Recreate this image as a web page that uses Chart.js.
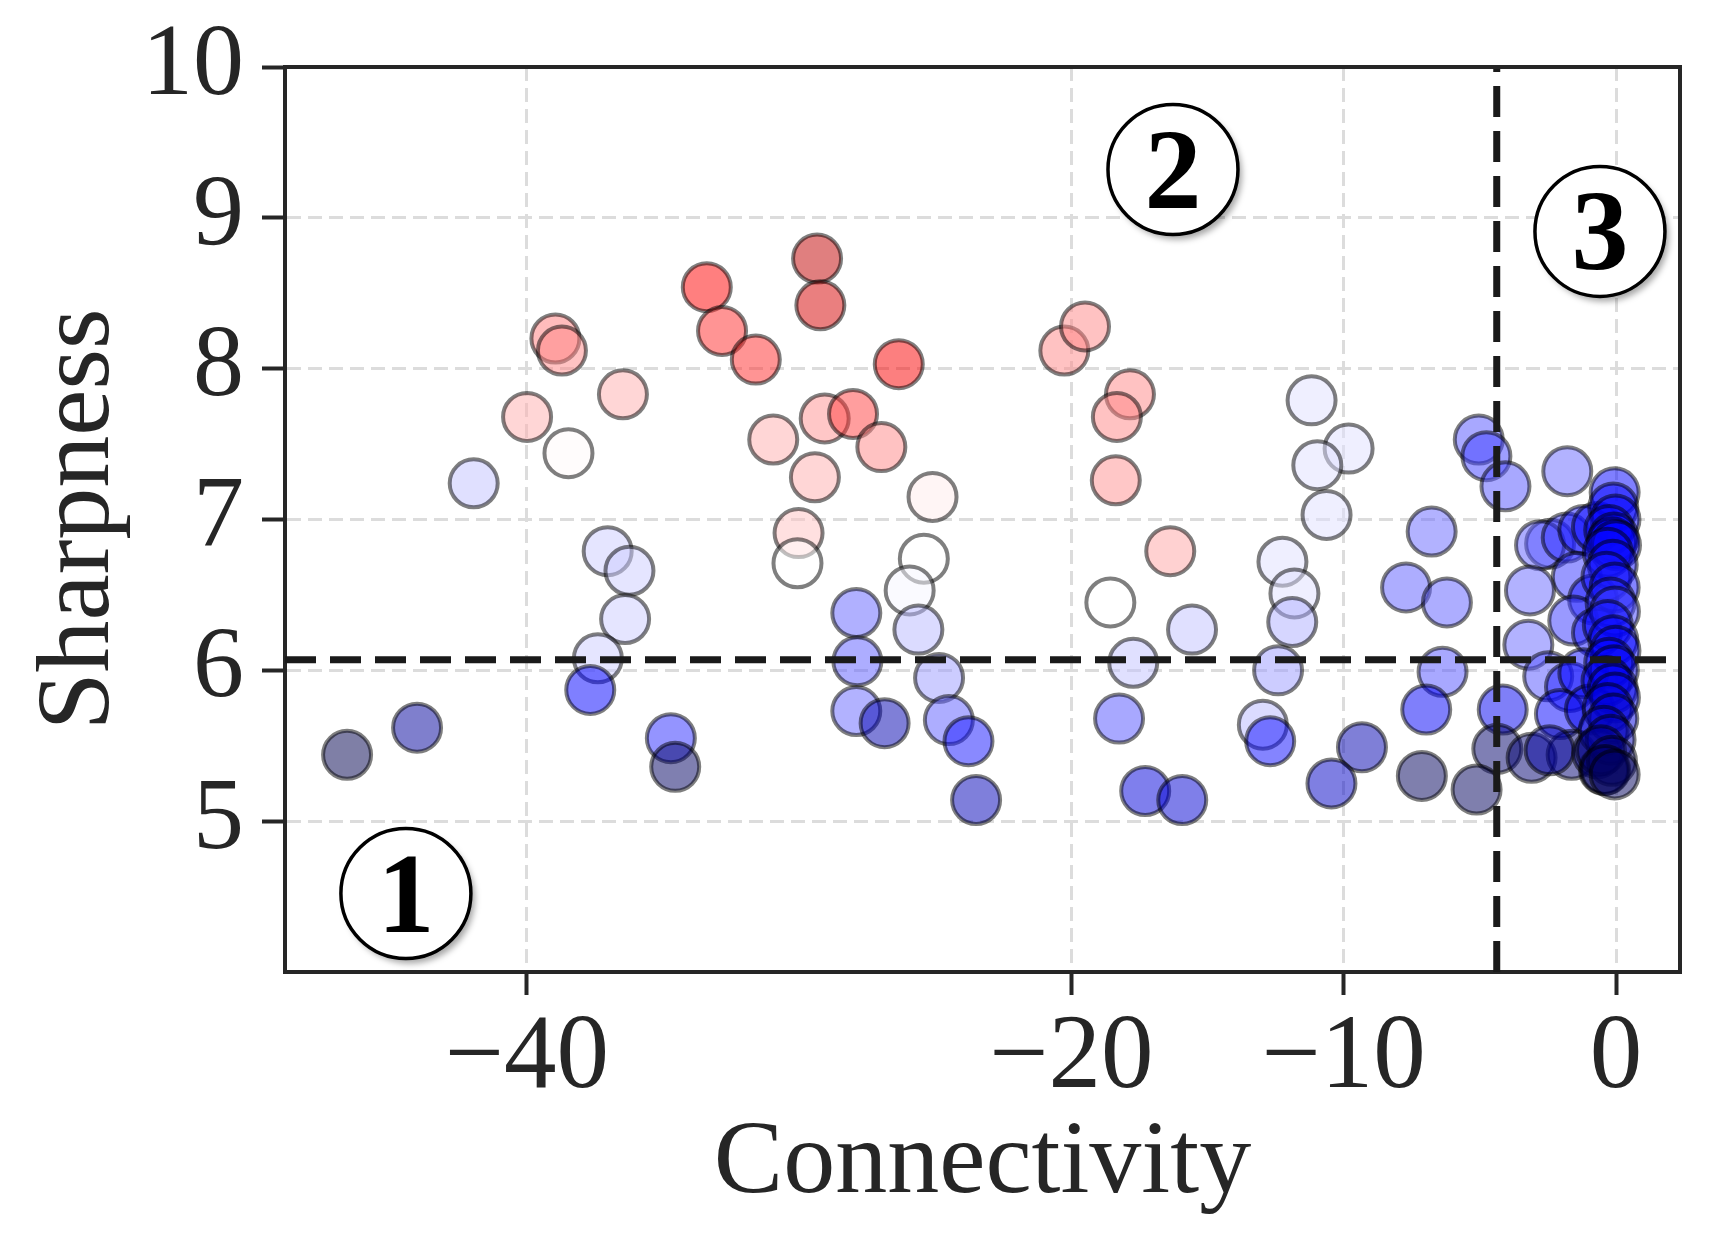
<!DOCTYPE html>
<html>
<head>
<meta charset="utf-8">
<title>Sharpness vs Connectivity</title>
<script src="https://cdn.jsdelivr.net/npm/chart.js@4.4.1/dist/chart.umd.min.js"></script>
<style>
  html, body { margin: 0; padding: 0; background: #ffffff; }
  #wrap { width: 1709px; height: 1246px; position: relative; }
</style>
</head>
<body>
<div id="wrap"><canvas id="chart"></canvas></div>
<script>
// Data
const connectivity = [
  -46.60, -44.03, -41.95, -39.99, -38.95, -38.71, -38.47, -36.47, -37.03, -36.23,
  -36.39, -37.39, -37.67, -34.71, -34.55,
  -33.39, -32.83, -31.59, -29.34, -29.22, -26.34, -30.95, -29.06, -28.02, -26.98,
  -29.42, -25.10, -30.02, -30.06, -25.42, -25.94, -25.62, -27.90, -27.86, -27.90,
  -26.86, -24.86, -24.50, -23.78, -23.50,
  -20.26, -19.50, -17.85, -18.33, -18.37, -16.37, -18.57, -17.73, -15.57, -18.25,
  -17.29, -15.93,
  -11.18, -9.82, -10.97, -10.63, -12.25, -11.81, -11.89, -12.41, -12.97, -12.70,
  -6.77, -7.71, -6.21, -6.37, -6.97, -9.33, -5.04, -4.76, -4.06, -4.16,
  -4.36, -7.13, -10.45, -5.12,
  -1.79, -2.42, -2.79, -1.81, -1.20, -0.70, -1.44, -3.16, -0.84, -1.57,
  -3.22, -0.70, -2.49, -1.69, -1.20, -2.06, -0.96, -3.10, -1.63, -2.44,
  -0.69, -0.44,
  -0.05, -0.10, -0.02, -0.25, -0.08, -0.15, 0.00, -0.30, -0.12, -0.35,
  -0.05, -0.20, -0.04, -0.30, -0.10, -0.02, -0.25, -0.08, -0.35, -0.12,
  -0.04, -0.30, -0.10, -0.45, -0.20, -0.55, -0.15, -0.40, -0.05
];
const sharpness = [
  5.44, 5.62, 7.24, 7.68, 8.20, 8.12, 7.44, 7.83, 6.79, 6.66,
  6.34, 6.08, 5.87, 5.55, 5.36,
  8.54, 8.25, 8.06, 8.73, 8.42, 8.03, 7.53, 7.67, 7.70, 7.48,
  7.28, 7.15, 6.91, 6.71, 6.74, 6.53, 6.27, 6.38, 6.06, 5.73,
  5.65, 5.95, 5.67, 5.53, 5.14,
  8.12, 8.28, 7.83, 7.68, 7.26, 6.79, 6.45, 6.05, 6.27, 5.68,
  5.20, 5.14,
  7.79, 7.47, 7.36, 7.03, 6.72, 6.51, 6.32, 6.00, 5.64, 5.53,
  6.92, 6.55, 6.45, 5.99, 5.74, 5.49, 7.53, 7.42, 7.22, 5.74,
  5.48, 5.30, 5.25, 5.21,
  7.32, 6.84, 6.83, 6.88, 6.93, 6.95, 6.62, 6.53, 6.47, 6.33,
  6.17, 6.25, 5.96, 5.89, 5.98, 5.71, 5.74, 5.42, 5.44, 5.47,
  5.45, 5.34,
  7.18, 7.08, 7.00, 6.93, 6.88, 6.85, 6.83, 6.78, 6.70, 6.62,
  6.55, 6.45, 6.39, 6.30, 6.20, 6.13, 6.05, 6.00, 5.93, 5.88,
  5.82, 5.75, 5.68, 5.60, 5.54, 5.47, 5.40, 5.34, 5.31
];
// colour value of each point on the seismic map (0 = dark blue, 0.5 = white, 1 = dark red)
const colorValue = [
  0.00, 0.11, 0.44, 0.58, 0.63, 0.62, 0.505, 0.58, 0.45, 0.45,
  0.45, 0.45, 0.25, 0.29, 0.03,
  0.75, 0.71, 0.71, 0.87, 0.83, 0.76, 0.58, 0.61, 0.69, 0.62,
  0.58, 0.52, 0.56, 0.50, 0.50, 0.49, 0.43, 0.345, 0.34, 0.35,
  0.14, 0.40, 0.34, 0.27, 0.15,
  0.62, 0.62, 0.62, 0.62, 0.61, 0.59, 0.50, 0.44, 0.44, 0.33,
  0.20, 0.19,
  0.47, 0.47, 0.47, 0.47, 0.47, 0.47, 0.42, 0.40, 0.43, 0.26,
  0.35, 0.34, 0.34, 0.33, 0.24, 0.14, 0.33, 0.31, 0.33, 0.23,
  0.04, 0.02, 0.17, 0.02,
  0.35, 0.33, 0.34, 0.30, 0.27, 0.26, 0.30, 0.35, 0.27, 0.30,
  0.35, 0.27, 0.33, 0.28, 0.26, 0.25, 0.22, 0.05, 0.05, 0.12,
  0.08, 0.03,
  0.25, 0.25, 0.25, 0.26, 0.25, 0.25, 0.25, 0.26, 0.26, 0.27,
  0.26, 0.28, 0.31, 0.26, 0.25, 0.25, 0.25, 0.24, 0.24, 0.23,
  0.22, 0.20, 0.20, 0.18, 0.15, 0.08, 0.05, 0.03, 0.02
];

const xTicks = [-40, -20, -10, 0];
const yTicks = [5, 6, 7, 8, 9, 10];
const xRange = [-48.88, 2.35];
const yRange = [4, 10];

const sharpnessCut = 6.07;
const connectivityCut = -4.38;

const regionLabels = ['1', '2', '3'];
const regionX = [-44.44, -16.27, -0.59];
const regionY = [4.52, 9.32, 8.91];

const SERIF = '"Liberation Serif", "Times New Roman", Times, serif';
const INK = '#262626';

// matplotlib "seismic" colormap, drawn at alpha 0.5
function seismic(v) {
  let r, g, b;
  if (v < 0.25) {
    r = 0; g = 0; b = 0.3 + 0.7 * v / 0.25;
  } else if (v < 0.5) {
    const t = (v - 0.25) / 0.25;
    r = t; g = t; b = 1;
  } else if (v < 0.75) {
    const t = (v - 0.5) / 0.25;
    r = 1; g = 1 - t; b = 1 - t;
  } else {
    const t = (v - 0.75) / 0.25;
    r = 1 - 0.5 * t; g = 0; b = 0;
  }
  return `rgba(${Math.round(r * 255)},${Math.round(g * 255)},${Math.round(b * 255)},0.5)`;
}

function fmtTick(v) {
  return v < 0 ? '\u2212' + Math.abs(v) : String(v);
}

// top/right spines and the circled region numbers
const framePlugin = {
  id: 'framePlugin',
  afterDatasetsDraw(chart) {
    const ctx = chart.ctx;
    const xs = chart.scales.x, ys = chart.scales.y;
    regionLabels.forEach((lab, i) => {
      const px = xs.getPixelForValue(regionX[i]);
      const py = ys.getPixelForValue(regionY[i]);
      ctx.save();
      ctx.shadowColor = 'rgba(0,0,0,0.35)';
      ctx.shadowBlur = 6;
      ctx.shadowOffsetX = 4;
      ctx.shadowOffsetY = 5;
      ctx.beginPath();
      ctx.arc(px, py, 65, 0, Math.PI * 2);
      ctx.fillStyle = '#ffffff';
      ctx.fill();
      ctx.restore();
      ctx.save();
      ctx.beginPath();
      ctx.arc(px, py, 65, 0, Math.PI * 2);
      ctx.lineWidth = 3.5;
      ctx.strokeStyle = '#000000';
      ctx.stroke();
      ctx.fillStyle = '#000000';
      ctx.font = 'bold 114px ' + SERIF;
      ctx.textAlign = 'center';
      ctx.textBaseline = 'alphabetic';
      ctx.fillText(lab, px, py + 38);
      ctx.restore();
    });
  },
  afterDraw(chart) {
    const {ctx, chartArea} = chart;
    ctx.save();
    ctx.strokeStyle = INK;
    ctx.lineWidth = 4;
    ctx.beginPath();
    ctx.moveTo(chartArea.left - 2, chartArea.top);
    ctx.lineTo(chartArea.right, chartArea.top);
    ctx.lineTo(chartArea.right, chartArea.bottom + 2);
    ctx.stroke();
    ctx.restore();
  }
};

const points = connectivity.map((x, i) => ({x: x, y: sharpness[i]}));

const axisGrid = {
  color: '#dcdcdc',
  lineWidth: 3,
  tickColor: INK,
  tickWidth: 4,
  tickLength: 23
};
const axisBorder = {display: true, color: INK, width: 4, dash: [14, 7]};

new Chart(document.getElementById('chart'), {
  type: 'scatter',
  data: {
    datasets: [
      {
        type: 'line',
        showLine: true,
        data: [{x: xRange[0], y: sharpnessCut}, {x: xRange[1], y: sharpnessCut}],
        borderColor: '#1a1a1a',
        borderWidth: 7,
        borderDash: [31, 14],
        pointRadius: 0,
        fill: false,
        order: 0
      },
      {
        type: 'line',
        showLine: true,
        data: [{x: connectivityCut, y: yRange[0]}, {x: connectivityCut, y: yRange[1]}],
        borderColor: '#1a1a1a',
        borderWidth: 7,
        borderDash: [31, 14],
        pointRadius: 0,
        fill: false,
        order: 0
      },
      {
        data: points,
        backgroundColor: colorValue.map(seismic),
        borderColor: 'rgba(0,0,0,0.5)',
        borderWidth: 4,
        pointRadius: 24,
        pointHoverRadius: 24,
        order: 1
      }
    ]
  },
  options: {
    responsive: true,
    maintainAspectRatio: false,
    animation: false,
    events: [],
    layout: {
      autoPadding: false,
      padding: {left: 0, top: 67, right: 29, bottom: 0}
    },
    plugins: {
      legend: {display: false},
      tooltip: {enabled: false}
    },
    scales: {
      x: {
        type: 'linear',
        min: xRange[0],
        max: xRange[1],
        afterBuildTicks: (s) => { s.ticks = xTicks.map(v => ({value: v})); },
        afterFit: (s) => { s.height = 274; },
        ticks: {
          font: {family: SERIF, size: 105, lineHeight: 1},
          color: INK,
          padding: 12,
          maxRotation: 0,
          autoSkip: false,
          callback: (v) => fmtTick(v)
        },
        grid: axisGrid,
        border: axisBorder,
        title: {
          display: true,
          text: 'Connectivity',
          font: {family: SERIF, size: 104, lineHeight: 1},
          color: INK,
          padding: {top: 0, bottom: 29}
        }
      },
      y: {
        min: yRange[0],
        max: yRange[1],
        afterBuildTicks: (s) => { s.ticks = yTicks.map(v => ({value: v})); },
        afterFit: (s) => { s.width = 285; },
        ticks: {
          font: {family: SERIF, size: 102, lineHeight: 0.8},
          color: INK,
          padding: 18,
          autoSkip: false,
          callback: (v) => fmtTick(v)
        },
        grid: axisGrid,
        border: axisBorder,
        title: {
          display: true,
          text: 'Sharpness',
          font: {family: SERIF, size: 104, lineHeight: 1},
          color: INK,
          padding: {top: 29, bottom: 0}
        }
      }
    }
  },
  plugins: [framePlugin]
});
</script>
</body>
</html>
